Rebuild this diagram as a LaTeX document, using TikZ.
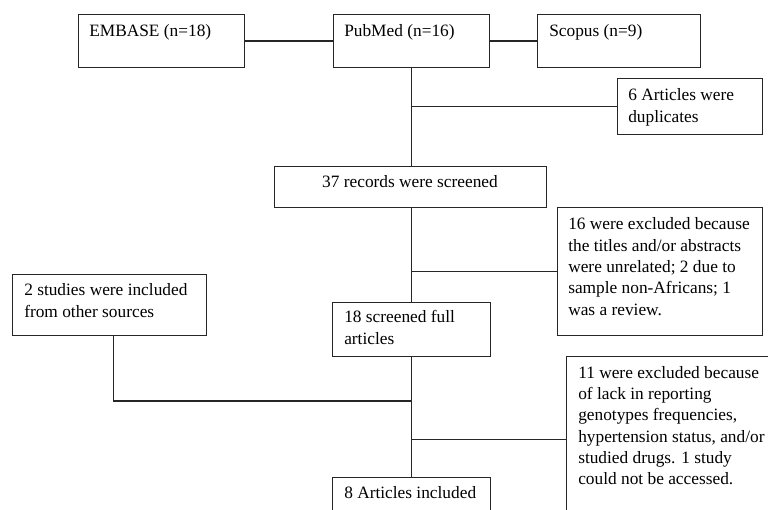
\documentclass[tikz,border=0pt]{standalone}
\usepackage{fontspec}
\setmainfont{Liberation Serif}
\begin{document}
\begin{tikzpicture}[x=0.75pt,y=-0.75pt,
  box/.style={draw=black!85, line width=0.9pt, rectangle, inner sep=0pt, anchor=north west},
  txt/.style={anchor=base west, inner sep=0pt, font=\fontsize{13}{16}\selectfont, align=left},
  ctxt/.style={anchor=base, inner sep=0pt, font=\fontsize{13}{16}\selectfont},
  conn/.style={draw=black!85, line width=0.9pt}]
\useasboundingbox (0,0) rectangle (768,510);
\clip (0,0) rectangle (768,510);
\fill[white] (0,0) rectangle (768,510);
% boxes
\node[box, minimum width=124.5pt, minimum height=39.75pt] (embase) at (78,14) {};
\node[box, minimum width=117pt, minimum height=39.75pt] (pubmed) at (333,14) {};
\node[box, minimum width=122.25pt, minimum height=39.75pt] (scopus) at (537,14) {};
\node[box, minimum width=108.75pt, minimum height=42pt] (dup) at (617,78) {};
\node[box, minimum width=204pt, minimum height=30.75pt] (rec) at (274,166) {};
\node[box, minimum width=153.75pt, minimum height=96pt] (ex16) at (557,207) {};
\node[box, minimum width=145.5pt, minimum height=45.75pt] (s2) at (12,274) {};
\node[box, minimum width=118.5pt, minimum height=40.5pt] (full) at (332,302) {};
\node[box, minimum width=157.5pt, minimum height=124.5pt] (ex11) at (566,356) {};
\node[box, minimum width=118.5pt, minimum height=33.75pt] (inc) at (332,477) {};
% texts (multi-line nodes are placed by the baseline of their last line)
\node[txt] (tembase) at (89,37) {EMBASE (n=18)};
\node[txt] (tpubmed) at (344,37) {PubMed (n=16)};
\node[txt] (tscopus) at (549,37) {Scopus (n=9)};
\node[txt] (tdup) at (628,122.3) {6 Articles were\\duplicates};
\node[ctxt] (trec) at (410,187) {37 records were screened};
\node[txt] (tex16) at (568,315.3) {16 were excluded because\\the titles and/or abstracts\\were unrelated; 2 due to\\sample non-Africans; 1\\was a review.};
\node[txt] (ts2) at (24,317.3) {2 studies were included\\from other sources};
\node[txt] (tfull) at (344,344.3) {18 screened full\\articles};
\node[txt] (tex11) at (578,484.7) {11 were excluded because\\of lack in reporting\\genotypes frequencies,\\hypertension status, and/or\\studied drugs. 1 study\\could not be accessed.};
\node[txt] (tinc) at (344,498) {8 Articles included};
% connectors
\coordinate (join) at (411,401);
\draw[conn] (embase.east) -- (pubmed.west);
\draw[conn] (pubmed.east) -- (scopus.west);
\draw[conn] (pubmed.south) -- (pubmed.south |- rec.north);
\draw[conn] (dup.west) -- (dup.west -| pubmed.south);
\draw[conn] (full.north) -- (full.north |- rec.south);
\draw[conn] (ex16.west) -- (ex16.west -| full.north);
\draw[conn] (full.south) -- (full.south |- inc.north);
\draw[conn] ([xshift=3pt]s2.south) |- (join);
\draw[conn] (ex11.west) -- (ex11.west -| full.south);
\end{tikzpicture}
\end{document}
